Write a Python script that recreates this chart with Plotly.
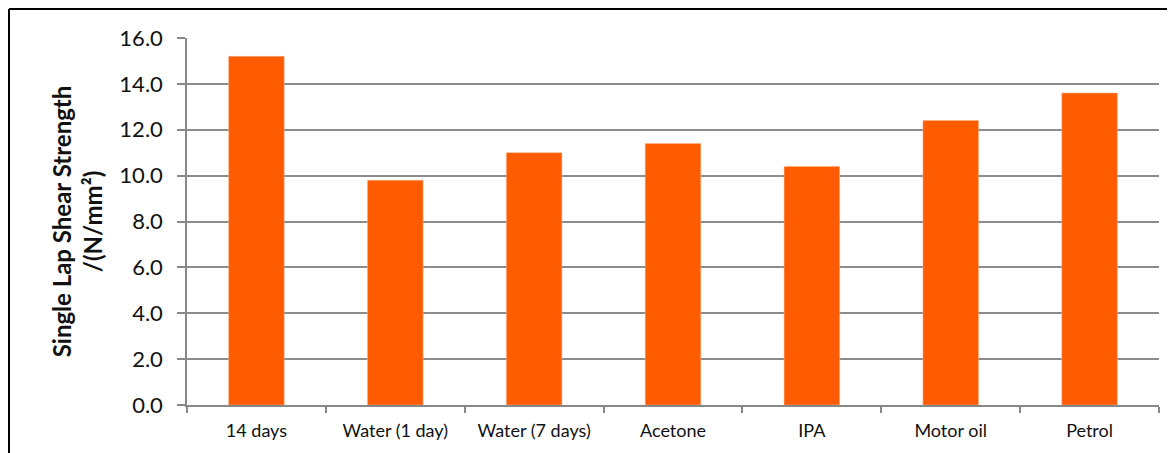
import plotly.graph_objects as go

categories = ["14 days", "Water (1 day)", "Water (7 days)", "Acetone", "IPA", "Motor oil", "Petrol"]
strength = [15.2, 9.8, 11.0, 11.4, 10.4, 12.4, 13.6]

# page body has an 8px margin, so the figure is offset by 8px
OFF = 8
W, H = 1175 - OFF, 453 - OFF
L, R, T, B = 187 - OFF, 16, 38 - OFF, 48
pw = W - L - R
ph = H - T - B

fig = go.Figure(go.Bar(
    x=categories, y=strength,
    marker=dict(color="#FF5B00", line=dict(color="#FFB08A", width=0.5)),
))

fig.update_layout(
    width=W, height=H,
    margin=dict(l=L, r=R, t=T, b=B),
    paper_bgcolor="white", plot_bgcolor="white",
    bargap=0.6,
    showlegend=False,
    font=dict(family="Lato, 'Open Sans', sans-serif", color="#111111"),
)
fig.update_xaxes(
    showgrid=False, showline=True, linecolor="#888888", linewidth=1.5,
    ticks="outside", tickson="boundaries", ticklen=6, tickcolor="#888888", tickwidth=1.5,
    tickfont=dict(size=18, color="#111111"),
    ticklabelstandoff=9,
)
fig.update_yaxes(
    range=[0, 16], dtick=2, tickformat=".1f",
    showgrid=True, gridcolor="#8c8c8c", gridwidth=1.5,
    showline=True, linecolor="#888888", linewidth=1.5,
    ticks="outside", ticklen=8, tickcolor="#888888", tickwidth=1.5,
    zeroline=False,
    tickfont=dict(size=22, color="#111111"),
    ticklabelstandoff=10,
    title=dict(text="<b>Single Lap Shear Strength<br>/(N/mm²)</b>", font=dict(size=24, color="#111111"), standoff=10),
)

# outer chart border: only the left and top edges are visible
x_left = (1 - L) / pw
y_top = 1 + (T - 1) / ph
fig.add_shape(type="line", xref="paper", yref="paper",
              x0=x_left, x1=(W + 20 - L) / pw, y0=y_top, y1=y_top,
              line=dict(color="black", width=2), layer="above")
fig.add_shape(type="line", xref="paper", yref="paper",
              x0=x_left, x1=x_left, y0=y_top, y1=-(B + 20) / ph,
              line=dict(color="black", width=2), layer="above")

fig.write_html("out.html",
               post_script="document.documentElement.style.overflow='hidden';document.body.style.overflow='hidden';")
